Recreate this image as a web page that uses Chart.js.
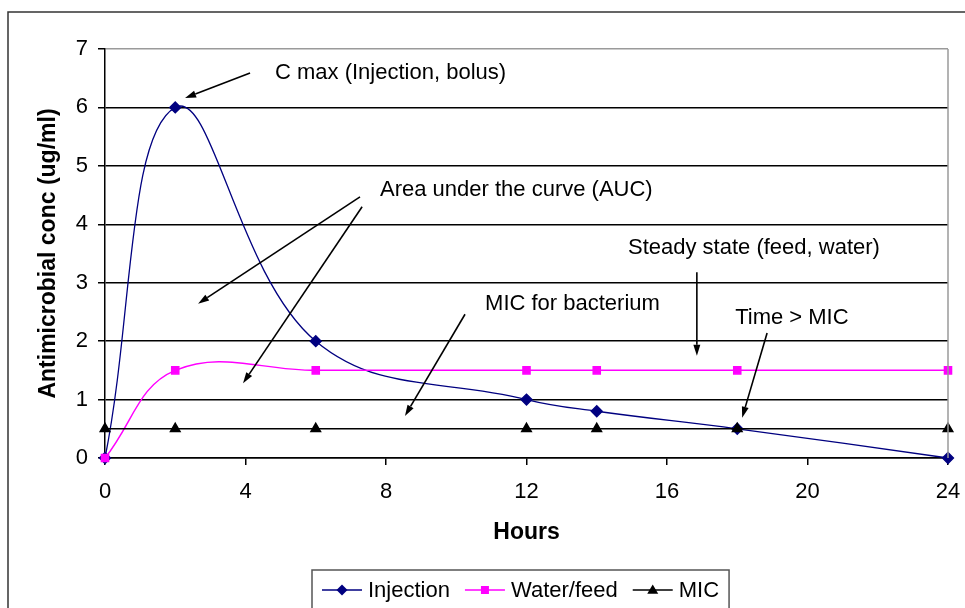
<!DOCTYPE html>
<html>
<head>
<meta charset="utf-8">
<script src="https://cdn.jsdelivr.net/npm/chart.js@4.4.1/dist/chart.umd.min.js"></script>
<style>
  html, body { margin: 0; padding: 0; background: #ffffff; }
  #wrap { width: 965px; height: 608px; position: relative; }
</style>
</head>
<body>
<div id="wrap"><canvas id="chart" width="965" height="608"></canvas></div>
<script>
// Sampling times (hours) and concentrations (ug/ml)
const hours = [0, 2, 6, 12, 14, 18, 24];
const injection = [0, 6, 2, 1, 0.8, 0.5, 0];
const waterFeed = [0, 1.5, 1.5, 1.5, 1.5, 1.5, 1.5];
const mic = [0.5, 0.5, 0.5, 0.5, 0.5, 0.5, 0.5];

const seriesNames = ['Injection', 'Water/feed', 'MIC'];
const xTicks = [0, 4, 8, 12, 16, 20, 24];
const yTicks = [0, 1, 2, 3, 4, 5, 6, 7];

// Callout notes, anchored in data units (hours, ug/ml)
const notes = [
  { text: 'C max (Injection, bolus)', at: [4.84, 6.59], arrows: [[[4.13, 6.59], [2.28, 6.16]]] },
  { text: 'Area under the curve (AUC)', at: [7.83, 4.59], arrows: [[[7.26, 4.47], [2.65, 2.64]], [[7.32, 4.30], [3.93, 1.28]]] },
  { text: 'Steady state (feed, water)', at: [14.89, 3.59], arrows: [[[16.85, 3.18], [16.85, 1.75]]] },
  { text: 'MIC for bacterium', at: [10.82, 2.64], arrows: [[[10.25, 2.46], [8.54, 0.72]]] },
  { text: 'Time > MIC', at: [17.94, 2.40], arrows: [[[18.85, 2.14], [18.14, 0.69]]] }
];

const FONT = '"Liberation Sans", Arial, sans-serif';
const pts = vals => hours.map((h, i) => ({ x: h, y: vals[i] }));

const colors = ['#000080', '#FF00FF', '#000000'];
const markers = ['rectRot', 'rect', 'triangle'];
const markerSize = [5.5, 5, 5.5];

function drawMarker(ctx, style, x, y, r, color) {
  ctx.save();
  ctx.fillStyle = color;
  ctx.beginPath();
  if (style === 'rectRot') {
    ctx.moveTo(x, y - r); ctx.lineTo(x + r, y); ctx.lineTo(x, y + r); ctx.lineTo(x - r, y);
  } else if (style === 'rect') {
    ctx.rect(x - r * 0.8, y - r * 0.8, r * 1.6, r * 1.6);
  } else {
    ctx.moveTo(x, y - r); ctx.lineTo(x + r, y + r * 0.7); ctx.lineTo(x - r, y + r * 0.7);
  }
  ctx.closePath();
  ctx.fill();
  ctx.restore();
}

const decorations = {
  id: 'decorations',
  afterDraw(chart) {
    const { ctx, chartArea: a, scales: { x, y } } = chart;
    ctx.save();
    // outer frame
    ctx.strokeStyle = '#333333';
    ctx.lineWidth = 1.5;
    ctx.beginPath();
    ctx.moveTo(8, 620); ctx.lineTo(8, 12); ctx.lineTo(970, 12);
    ctx.stroke();
    // plot area right edge
    ctx.strokeStyle = '#9a9a9a';
    ctx.lineWidth = 1.5;
    ctx.beginPath();
    ctx.moveTo(a.right, a.top); ctx.lineTo(a.right, a.bottom);
    ctx.stroke();

    // callouts
    ctx.font = '22px ' + FONT;
    ctx.fillStyle = '#000000';
    ctx.textBaseline = 'middle';
    ctx.textAlign = 'left';
    notes.forEach(n => {
      ctx.fillText(n.text, x.getPixelForValue(n.at[0]), y.getPixelForValue(n.at[1]));
      n.arrows.forEach(([from, to]) => {
        const x0 = x.getPixelForValue(from[0]), y0 = y.getPixelForValue(from[1]);
        const x1 = x.getPixelForValue(to[0]), y1 = y.getPixelForValue(to[1]);
        const ang = Math.atan2(y1 - y0, x1 - x0);
        const len = 11, hw = 3.5;
        const bx = x1 - len * Math.cos(ang), by = y1 - len * Math.sin(ang);
        ctx.strokeStyle = '#000000';
        ctx.lineWidth = 1.6;
        ctx.beginPath();
        ctx.moveTo(x0, y0); ctx.lineTo(bx, by);
        ctx.stroke();
        ctx.beginPath();
        ctx.moveTo(x1, y1);
        ctx.lineTo(bx + hw * Math.sin(ang), by - hw * Math.cos(ang));
        ctx.lineTo(bx - hw * Math.sin(ang), by + hw * Math.cos(ang));
        ctx.closePath();
        ctx.fillStyle = '#000000';
        ctx.fill();
      });
    });

    // legend
    const lx = 312, ly = 570, cy = 590;
    ctx.font = '22px ' + FONT;
    let cx = lx + 10;
    const items = [];
    seriesNames.forEach((name, i) => {
      const w = ctx.measureText(name).width;
      items.push({ name, i, lineX: cx, textX: cx + 46 });
      cx += 46 + w + 15;
    });
    const rightEdge = cx - 15 + 10;
    ctx.fillStyle = '#ffffff';
    ctx.fillRect(lx, ly, rightEdge - lx, 60);
    ctx.strokeStyle = '#555555';
    ctx.lineWidth = 1.5;
    ctx.strokeRect(lx, ly, rightEdge - lx, 60);
    items.forEach(it => {
      ctx.strokeStyle = colors[it.i];
      ctx.lineWidth = 1.5;
      ctx.beginPath();
      ctx.moveTo(it.lineX, cy); ctx.lineTo(it.lineX + 40, cy);
      ctx.stroke();
      drawMarker(ctx, markers[it.i], it.lineX + 20, cy, markerSize[it.i], colors[it.i]);
      ctx.fillStyle = '#000000';
      ctx.textBaseline = 'middle';
      ctx.fillText(it.name, it.textX, cy + 1);
    });
    ctx.restore();
  }
};

new Chart(document.getElementById('chart'), {
  type: 'line',
  data: {
    datasets: [
      { label: seriesNames[0], data: pts(injection), borderColor: colors[0], backgroundColor: colors[0],
        borderWidth: 1.3, tension: 0.4, pointStyle: markers[0], pointRadius: markerSize[0], order: 3, clip: false },
      { label: seriesNames[1], data: pts(waterFeed), borderColor: colors[1], backgroundColor: colors[1],
        borderWidth: 1.5, tension: 0.4, pointStyle: markers[1], pointRadius: markerSize[1], order: 2, clip: false },
      { label: seriesNames[2], data: pts(mic), borderColor: colors[2], backgroundColor: colors[2],
        borderWidth: 1.5, tension: 0, pointStyle: markers[2], pointRadius: markerSize[2], order: 1, clip: false }
    ]
  },
  options: {
    responsive: false,
    animation: false,
    devicePixelRatio: 1,
    layout: { padding: { left: 0, right: 17, top: 49, bottom: 0 } },
    plugins: { legend: { display: false }, tooltip: { enabled: false } },
    elements: { point: { borderWidth: 0, hoverRadius: 5 } },
    scales: {
      x: {
        type: 'linear', min: 0, max: 24,
        afterBuildTicks: s => { s.ticks = xTicks.map(v => ({ value: v })); },
        afterFit: s => { s.height = 150; s.paddingLeft = 0; s.paddingRight = 0; },
        ticks: { font: { family: FONT, size: 22 }, color: '#000000', padding: 14, maxRotation: 0 },
        grid: { drawOnChartArea: false, drawTicks: true, tickLength: 7, tickColor: '#000000', lineWidth: 1.5 },
        border: { color: '#000000', width: 1.5 },
        title: { display: true, text: 'Hours', font: { family: FONT, size: 23, weight: 'bold' }, color: '#000000',
          padding: { top: 0, bottom: 62 } }
      },
      y: {
        min: 0, max: 7,
        afterBuildTicks: s => { s.ticks = yTicks.map(v => ({ value: v })); },
        afterFit: s => { s.width = 105; s.paddingTop = 0; s.paddingBottom = 0; },
        ticks: { font: { family: FONT, size: 22 }, color: '#000000', padding: 10 },
        grid: { color: c => (c.tick && c.tick.value === 7 ? '#9a9a9a' : '#000000'), lineWidth: 1.5,
          tickLength: 7, tickColor: '#000000' },
        border: { color: '#000000', width: 1.5 },
        title: { display: true, text: 'Antimicrobial conc (ug/ml)', font: { family: FONT, size: 23, weight: 'bold' },
          color: '#000000', padding: { top: 35, bottom: 0 } }
      }
    }
  },
  plugins: [decorations]
});
</script>
</body>
</html>
